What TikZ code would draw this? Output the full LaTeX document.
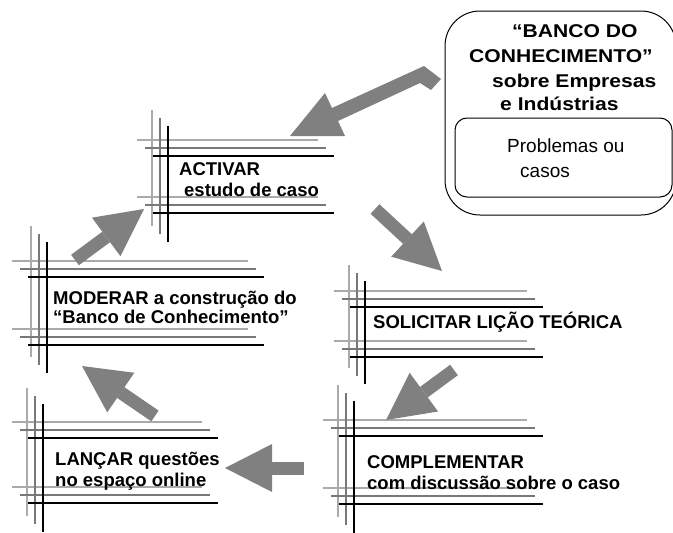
\documentclass[tikz,border=0pt]{standalone}
\usepackage{fontspec}
\setmainfont{Liberation Sans}
\newfontfamily\bankfont[FakeStretch=1.14]{Liberation Sans}
\usetikzlibrary{arrows.meta}
\definecolor{lightline}{RGB}{170,170,170}
\definecolor{midline}{RGB}{120,120,120}
\definecolor{arrowgray}{RGB}{128,128,128}
% #1 x start, #2 x end (light horizontals), #3 x of light vertical,
% #4 top of light vertical, #5 y of light top horizontal,
% #6 y of light bottom horizontal, #7 bottom of light vertical
\newcommand{\ruleframe}[7]{%
  \foreach \kk/\col in {0/lightline,1/midline,2/black}{%
    \draw[ruleline,\col] ({#1+8*\kk},{#5+8*\kk}) -- ({#2+8*\kk},{#5+8*\kk});
    \draw[ruleline,\col] ({#1+8*\kk},{#6+8*\kk}) -- ({#2+8*\kk},{#6+8*\kk});
    \draw[ruleline,\col] ({#3+8*\kk},{#4+8*\kk}) -- ({#3+8*\kk},{#7+8*\kk});
  }}
\begin{document}
\begin{tikzpicture}[x=1pt,y=-1pt,
  ruleline/.style={line width=1.6pt},
  lbl/.style={font=\fontsize{18.5}{22}\selectfont\bfseries, inner sep=0pt, anchor=base west},
  banklbl/.style={font=\bankfont\fontsize{18.5}{22}\selectfont\bfseries, inner sep=0pt, anchor=base west},
  plainlbl/.style={font=\fontsize{19}{22}\selectfont, inner sep=0pt, anchor=base west},
  boxline/.style={draw=black, line width=1pt},
  blockarrow/.style={draw=arrowgray, line width=13pt,
    -{Triangle[length=47pt,width=48pt,line width=0pt]}}]
\useasboundingbox (0,0) rectangle (673,533);

% knowledge bank
\draw[boxline, rounded corners=35pt] (445,11) rectangle (676,215);
\draw[boxline, rounded corners=12pt] (455,118) rectangle (672,197);
\node[banklbl] (bank1) at (512,37) {“BANCO DO};
\node[banklbl] (bank2) at (469,62) {CONHECIMENTO”};
\node[banklbl] (bank3) at (492,87) {sobre Empresas};
\node[banklbl] (bank4) at (500,110) {e Indústrias};
\node[plainlbl] (prob1) at (507,152) {Problemas ou};
\node[plainlbl] (prob2) at (520,177) {casos};

% frames
\ruleframe{137}{318}{152}{110}{140}{197}{226}
\ruleframe{12}{248}{31}{226}{261}{329}{357}
\ruleframe{334}{527}{349}{265}{291}{341}{368}
\ruleframe{323}{527}{338}{385}{420}{488}{517}
\ruleframe{12}{202}{27}{388}{422}{487}{516}

% labels
\node[lbl] (act1) at (179,175) {ACTIVAR};
\node[lbl] (act2) at (184,196) {estudo de caso};
\node[lbl] (mod1) at (53,304) {MODERAR a construção do};
\node[lbl] (mod2) at (53,323) {“Banco de Conhecimento”};
\node[lbl] (sol1) at (373,328) {SOLICITAR LIÇÃO TEÓRICA};
\node[lbl] (com1) at (367,468) {COMPLEMENTAR};
\node[lbl] (com2) at (367,489) {com discussão sobre o caso};
\node[lbl] (lan1) at (55,465) {LANÇAR questões};
\node[lbl] (lan2) at (55,486) {no espaço online};

% bent arrow from the bank to ACTIVAR
\fill[arrowgray] (290,136) -- (345,136) -- (338,121) -- (420,83) -- (431,90)
  -- (441,79) -- (424,66) -- (332,108) -- (325,93) -- cycle;

% block arrows
\coordinate (a2s) at (375,209); \coordinate (a2e) at (442,271);
\coordinate (a3s) at (75,260);  \coordinate (a3e) at (144,209);
\coordinate (a4s) at (454,370); \coordinate (a4e) at (386,420);
\coordinate (a5s) at (304,468); \coordinate (a5e) at (225,468);
\coordinate (a6s) at (155,416); \coordinate (a6e) at (82,366);
\draw[blockarrow] (a2s) -- (a2e);
\draw[blockarrow] (a3s) -- (a3e);
\draw[blockarrow] (a4s) -- (a4e);
\draw[blockarrow] (a5s) -- (a5e);
\draw[blockarrow] (a6s) -- (a6e);
\end{tikzpicture}
\end{document}
